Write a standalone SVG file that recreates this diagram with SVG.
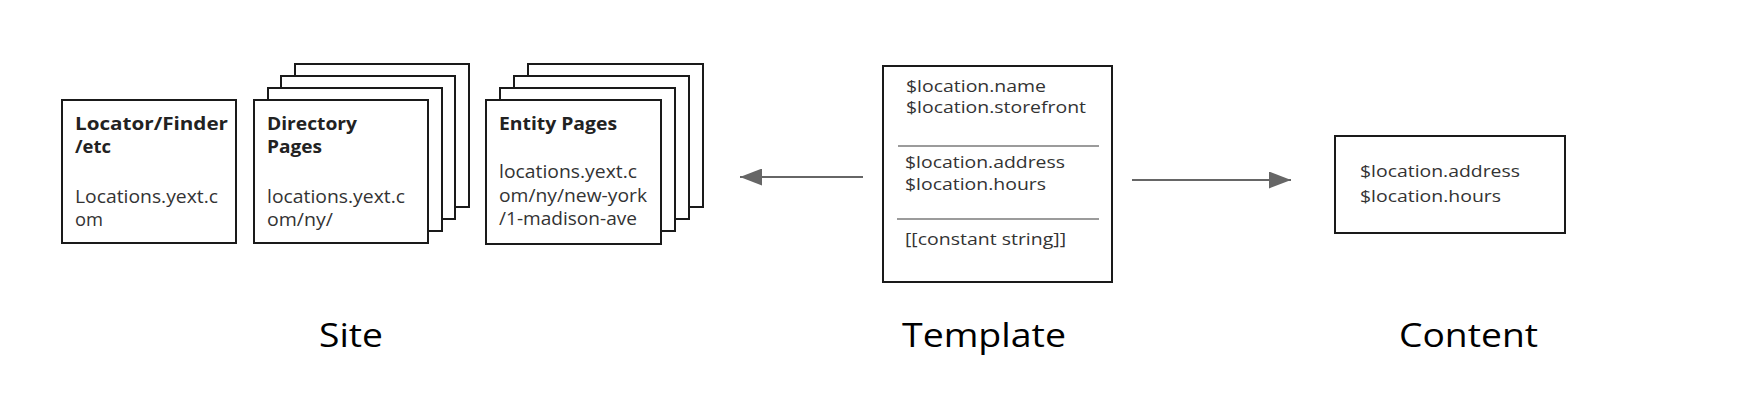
<svg xmlns="http://www.w3.org/2000/svg" width="1742" height="416" viewBox="0 0 1742 416">
<style>
.box{fill:#fff;stroke:#1a1a1a;stroke-width:2}
.div{stroke:#7a7a7a;stroke-width:1.6}
.conn{stroke:#666;stroke-width:2;fill:none}
.t{font-family:"Open Sans","Noto Sans","Liberation Sans",sans-serif;font-size:17px;fill:#333}
.s{font-family:"Open Sans","Noto Sans","Liberation Sans",sans-serif;font-size:18px;fill:#333}
.b{font-family:"Open Sans","Noto Sans","Liberation Sans",sans-serif;font-size:18px;font-weight:bold;fill:#222}
.lbl{font-family:"Open Sans","Noto Sans","Liberation Sans",sans-serif;font-size:33px;fill:#000}
</style>
<defs>
<marker id="ah" markerUnits="userSpaceOnUse" markerWidth="22" markerHeight="17" refX="22" refY="8.5" orient="auto">
<path d="M0,0 L22,8.5 L0,17 z" fill="#666"/>
</marker>
</defs>
<rect width="1742" height="416" fill="#fff"/>
<g id="locator">
<rect class="box" x="62" y="100" width="174" height="143"/>
<text class="b" x="75" y="130" textLength="153" lengthAdjust="spacingAndGlyphs">Locator/Finder</text>
<text class="b" x="75" y="153" textLength="36" lengthAdjust="spacingAndGlyphs">/etc</text>
<text class="s" x="75" y="203" textLength="143" lengthAdjust="spacingAndGlyphs">Locations.yext.c</text>
<text class="s" x="75" y="226" textLength="28" lengthAdjust="spacingAndGlyphs">om</text>
</g>
<g id="directory">
<rect class="box" x="295" y="64" width="174" height="143"/>
<rect class="box" x="281" y="76" width="174" height="143"/>
<rect class="box" x="268" y="88" width="174" height="143"/>
<rect class="box" x="254" y="100" width="174" height="143"/>
<text class="b" x="267" y="130" textLength="90" lengthAdjust="spacingAndGlyphs">Directory</text>
<text class="b" x="267" y="153" textLength="55" lengthAdjust="spacingAndGlyphs">Pages</text>
<text class="s" x="267" y="203" textLength="138" lengthAdjust="spacingAndGlyphs">locations.yext.c</text>
<text class="s" x="267" y="226" textLength="66" lengthAdjust="spacingAndGlyphs">om/ny/</text>
</g>
<g id="entity">
<rect class="box" x="528" y="64" width="175" height="143"/>
<rect class="box" x="514" y="76" width="175" height="143"/>
<rect class="box" x="500" y="88" width="175" height="143"/>
<rect class="box" x="486" y="100" width="175" height="144"/>
<text class="b" x="499" y="130" textLength="118" lengthAdjust="spacingAndGlyphs">Entity Pages</text>
<text class="s" x="499" y="178" textLength="138" lengthAdjust="spacingAndGlyphs">locations.yext.c</text>
<text class="s" x="499" y="202" textLength="148" lengthAdjust="spacingAndGlyphs">om/ny/new-york</text>
<text class="s" x="499" y="225" textLength="138" lengthAdjust="spacingAndGlyphs">/1-madison-ave</text>
</g>
<g id="template">
<rect class="box" x="883" y="66" width="229" height="216"/>
<text class="t" x="906" y="92" textLength="140" lengthAdjust="spacingAndGlyphs">$location.name</text>
<text class="t" x="906" y="113" textLength="180" lengthAdjust="spacingAndGlyphs">$location.storefront</text>
<line class="div" x1="898" y1="146" x2="1099" y2="146"/>
<text class="t" x="905" y="168" textLength="160" lengthAdjust="spacingAndGlyphs">$location.address</text>
<text class="t" x="905" y="190" textLength="141" lengthAdjust="spacingAndGlyphs">$location.hours</text>
<line class="div" x1="897" y1="219" x2="1099" y2="219"/>
<text class="t" x="905" y="245" textLength="161" lengthAdjust="spacingAndGlyphs">[[constant string]]</text>
</g>
<g id="content">
<rect class="box" x="1335" y="136" width="230" height="97"/>
<text class="t" x="1360" y="177" textLength="160" lengthAdjust="spacingAndGlyphs">$location.address</text>
<text class="t" x="1360" y="202" textLength="141" lengthAdjust="spacingAndGlyphs">$location.hours</text>
</g>
<g id="connectors">
<line class="conn" x1="863" y1="177" x2="740" y2="177" marker-end="url(#ah)"/>
<line class="conn" x1="1132" y1="180" x2="1291" y2="180" marker-end="url(#ah)"/>
</g>
<g id="labels">
<text class="lbl" x="319" y="347" textLength="64" lengthAdjust="spacingAndGlyphs">Site</text>
<text class="lbl" x="902" y="347" textLength="164" lengthAdjust="spacingAndGlyphs">Template</text>
<text class="lbl" x="1399" y="347" textLength="139" lengthAdjust="spacingAndGlyphs">Content</text>
</g>
</svg>
